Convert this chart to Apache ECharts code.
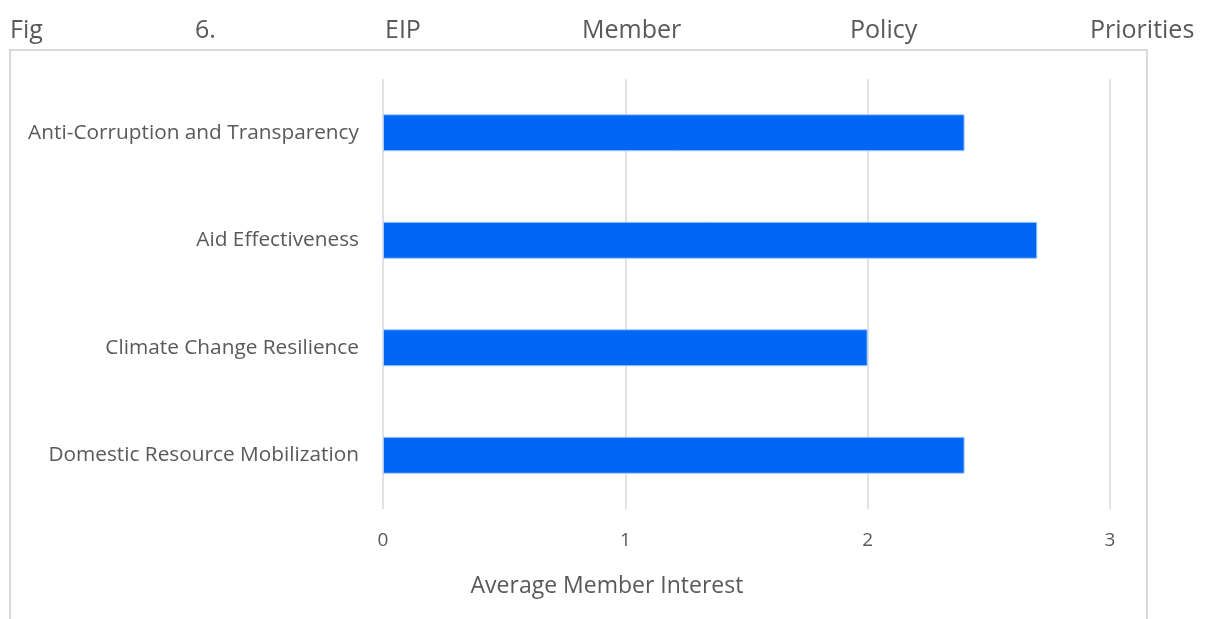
<!DOCTYPE html>
<html>
<head>
<meta charset="utf-8">
<script src="https://cdn.jsdelivr.net/npm/echarts@6/dist/echarts.min.js"></script>
<style>
html,body{margin:0;padding:0;background:#fff;}
#chart{width:1213px;height:619px;}
</style>
</head>
<body>
<div id="chart"></div>
<script>
const categories = [
  "Anti-Corruption and Transparency",
  "Aid Effectiveness",
  "Climate Change Resilience",
  "Domestic Resource Mobilization"
];
const values = [2.4, 2.7, 2.0, 2.4];
const titleWords = ["Fig", "6.", "EIP", "Member", "Policy", "Priorities"];
const xTicks = [0, 1, 2, 3];
const axisTitle = "Average Member Interest";

const FONT = "'Open Sans', 'Noto Sans', sans-serif";
const TXT = "#595959";
const wordX = [10, 195, 385, 582, 850, 1090];

const chart = echarts.init(document.getElementById('chart'));
const graphics = titleWords.map((w, i) => ({
  type: 'text', x: wordX[i], y: 31,
  style: { text: w, font: "25px " + FONT, fill: TXT, verticalAlign: 'middle' }
}));
graphics.push({
  type: 'rect', shape: { x: 10, y: 50, width: 1137, height: 600 },
  style: { fill: 'none', stroke: '#d9d9d9', lineWidth: 2 }, silent: true, z: -1
});
graphics.push({
  type: 'text', x: 607, y: 586,
  style: { text: axisTitle, font: "23px " + FONT, fill: TXT, align: 'center', verticalAlign: 'middle' }
});

chart.setOption({
  animation: false,
  graphic: graphics,
  grid: { left: 383, right: 103, top: 79, bottom: 110, containLabel: false },
  xAxis: {
    type: 'value', min: 0, max: 3, interval: 1,
    axisLine: { show: false }, axisTick: { show: false },
    splitLine: { lineStyle: { color: '#d9d9d9', width: 1.5 } },
    axisLabel: { color: TXT, fontFamily: FONT, fontSize: 19, margin: 22,
      formatter: v => xTicks.includes(v) ? String(v) : '' }
  },
  yAxis: {
    type: 'category', data: categories, inverse: true,
    axisLine: { show: false }, axisTick: { show: false },
    axisLabel: { color: TXT, fontFamily: FONT, fontSize: 20.8, margin: 24 }
  },
  series: [{
    type: 'bar', data: values, barWidth: 37,
    itemStyle: { color: '#0066F6', borderColor: '#a9c9fb', borderWidth: 1 }
  }]
});
</script>
</body>
</html>
